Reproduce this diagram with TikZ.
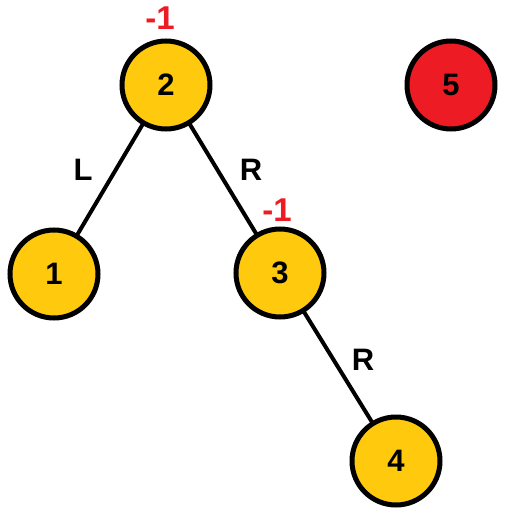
\documentclass[tikz,border=0pt]{standalone}
\usepackage{fontspec}
\setmainfont{Liberation Sans}
\definecolor{gold}{HTML}{FFC90E}
\definecolor{redfill}{HTML}{ED1C24}
\begin{document}
\begin{tikzpicture}[x=1pt,y=-1pt,
  tnode/.style={circle,draw=black,line width=5pt,fill=gold,minimum size=88pt,inner sep=0pt,font=\fontsize{31}{31}\selectfont\bfseries},
  rnode/.style={tnode,fill=redfill},
  edge/.style={draw=black,line width=4pt},
  elab/.style={font=\fontsize{31}{31}\selectfont\bfseries,text=black},
  bal/.style={font=\fontsize{33}{33}\selectfont\bfseries,text=redfill}]
\useasboundingbox (0,0) rectangle (506,530);
\coordinate (c2) at (166,85);
\coordinate (c1) at (54,274);
\coordinate (c3) at (280,273);
\coordinate (c4) at (396,461);
\coordinate (c5) at (451,85);
\draw[edge] (c2) -- (c1);
\draw[edge] (c2) -- (c3);
\draw[edge] (c3) -- (c4);
\node[tnode] (n2) at (c2) {2};
\node[tnode] (n1) at (c1) {1};
\node[tnode] (n3) at (c3) {3};
\node[tnode] (n4) at (c4) {4};
\node[rnode] (n5) at (c5) {5};
\node[elab] (l1) at (83,170) {L};
\node[elab] (l2) at (251,170) {R};
\node[elab] (l3) at (363,360) {R};
\node[bal] (b2) at (160,18) {-1};
\node[bal] (b3) at (277,210) {-1};
\end{tikzpicture}
\end{document}
